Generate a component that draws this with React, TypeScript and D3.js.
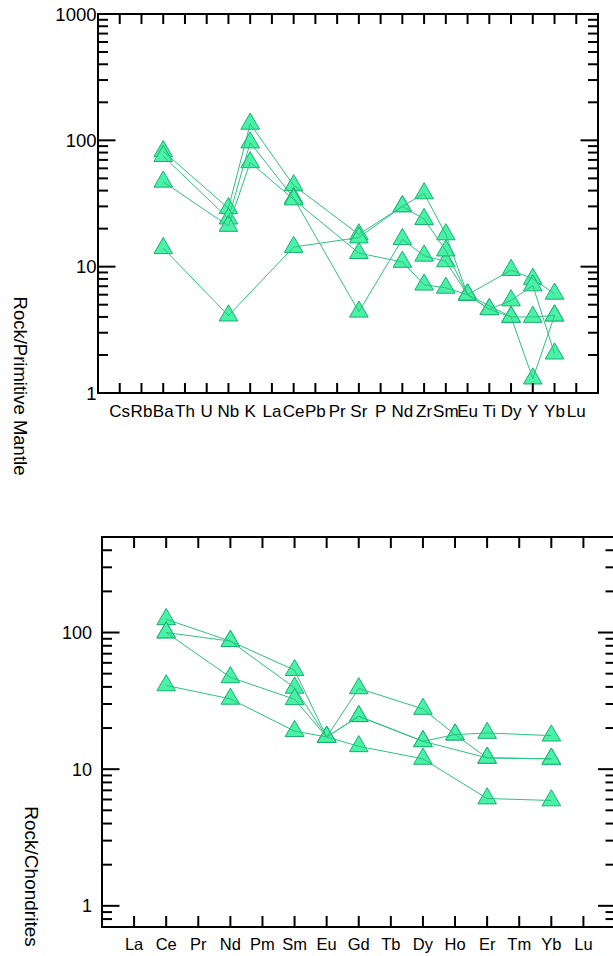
import React from "react";
import * as d3 from "d3";

// ---------- Data: top chart (primitive-mantle normalised spider diagram) ----------
const spiderElements = ["Cs", "Rb", "Ba", "Th", "U", "Nb", "K", "La", "Ce", "Pb", "Pr", "Sr", "P", "Nd", "Zr", "Sm", "Eu", "Ti", "Dy", "Y", "Yb", "Lu"];
//                 Cs    Rb    Ba    Th    U     Nb    K     La    Ce    Pb    Pr    Sr    P     Nd    Zr    Sm    Eu    Ti    Dy    Y     Yb    Lu
const spiderA = [null, null, 82, null, null, 29, 135, null, 44, null, null, 18, null, 30, 38, 18, 6.0, null, 9.4, 8.0, 6.1, null];
const spiderB = [null, null, 75, null, null, 24, 96, null, 35, null, null, 4.4, null, 16.5, 12.2, 11.0, 6.0, 4.6, 5.4, 7.1, 2.05, null];
const spiderC = [null, null, 47, null, null, 21, 67, null, 34, null, null, 12.8, null, 10.9, 7.2, 6.8, 6.0, 4.6, 4.0, 4.0, 4.1, null];
const spiderD = [null, null, 14, null, null, 4.1, null, null, 14.3, null, null, 17, null, 30, 23.8, 13.4, 6.0, null, 4.0, 1.3, 4.1, null];
const spiderSeries = [spiderA, spiderB, spiderC, spiderD];
const spiderDomain = [1, 1000];
const spiderYLabels = [1, 10, 100, 1000];

// ---------- Data: bottom chart (chondrite normalised REE) ----------
const reeElements = ["La", "Ce", "Pr", "Nd", "Pm", "Sm", "Eu", "Gd", "Tb", "Dy", "Ho", "Er", "Tm", "Yb", "Lu"];
//              La    Ce   Pr    Nd    Pm    Sm    Eu    Gd    Tb    Dy    Ho    Er    Tm    Yb    Lu
const reeS1 = [null, 125, null, 86.5, null, 53, 17.2, 39, null, 27.6, 17.9, 12.1, null, 11.9, null];
const reeS2 = [null, 100, null, 86.5, null, 39.4, 17.2, 24.4, null, 16.0, 17.9, 18.4, null, 17.6, null];
const reeS3 = [null, 100, null, 47, null, 32.5, 17.2, 24.4, null, 16.0, null, 12.1, null, 11.9, null];
const reeS4 = [null, 41, null, 32.7, null, 19.0, 17.2, 14.7, null, 11.9, null, 6.1, null, 5.9, null];
const reeSeries = [reeS1, reeS2, reeS3, reeS4];
const reeDomain = [0.7, 500];
const reeYLabels = [1, 10, 100];

const FILL = "#4af2a8";
const EDGE = "#16b06d";
const LINE = "#2cc283";
const FONT = "'Liberation Sans', Arial, Helvetica, sans-serif";

type PanelProps = {
  elements: string[];
  series: (number | null)[][];
  domain: number[];
  yLabels: number[];
  box: { left: number; right: number; top: number; bottom: number };
  title: string;
  titleX: number;
  titleY: number;
  titleFont: number;
  labelRight: number;
  labelFont: number;
  xLabelY: number;
  xFont: number;
  xTickLen: number;
};

function Panel(p: PanelProps) {
  const { box } = p;
  const n = p.elements.length;
  const x = d3.scaleLinear().domain([-1, n]).range([box.left, box.right]);
  const y = d3.scaleLog().domain(p.domain).range([box.bottom, box.top]);
  const yTicks = y.ticks();
  const isMajor = (v: number) => Math.abs(Math.log10(v) - Math.round(Math.log10(v))) < 1e-9;
  const tri = d3.symbol().type(d3.symbolTriangle).size(150);
  const line = d3
    .line<{ i: number; v: number }>()
    .x((d) => x(d.i))
    .y((d) => y(d.v));
  const pts = p.series.map((s) =>
    s.map((v, i) => ({ i, v: v as number })).filter((d) => d.v != null)
  );

  return (
    <g>
      {/* markers */}
      {pts.map((s, si) =>
        s.map((d, k) => (
          <path
            key={`m${si}-${k}`}
            d={tri() as string}
            transform={`translate(${x(d.i)},${y(d.v)})`}
            fill={FILL}
            stroke={EDGE}
            strokeWidth={1}
          />
        ))
      )}
      {/* lines */}
      {pts.map((s, si) => (
        <path key={`l${si}`} d={line(s) as string} fill="none" stroke={LINE} strokeWidth={1} />
      ))}
      {/* frame */}
      <rect
        x={box.left}
        y={box.top}
        width={box.right - box.left}
        height={box.bottom - box.top}
        fill="none"
        stroke="#000"
        strokeWidth={2}
      />
      {/* x ticks */}
      {p.elements.map((e, i) => (
        <g key={`xt${i}`}>
          <line x1={x(i)} x2={x(i)} y1={box.top} y2={box.top + p.xTickLen} stroke="#000" strokeWidth={2} />
          <line x1={x(i)} x2={x(i)} y1={box.bottom} y2={box.bottom - p.xTickLen} stroke="#000" strokeWidth={2} />
          <text x={x(i)} y={p.xLabelY} textAnchor="middle" fontSize={p.xFont} fontFamily={FONT} fill="#000">
            {e}
          </text>
        </g>
      ))}
      {/* y ticks */}
      {yTicks.map((v, k) => {
        const len = isMajor(v) ? 17.5 : 10;
        return (
          <g key={`yt${k}`}>
            <line x1={box.left} x2={box.left + len} y1={y(v)} y2={y(v)} stroke="#000" strokeWidth={2} />
            <line x1={box.right} x2={box.right - len} y1={y(v)} y2={y(v)} stroke="#000" strokeWidth={2} />
          </g>
        );
      })}
      {p.yLabels.map((v) => (
        <text
          key={`yl${v}`}
          x={p.labelRight}
          y={y(v) + p.labelFont * 0.36}
          textAnchor="end"
          fontSize={p.labelFont}
          fontFamily={FONT}
          fill="#000"
        >
          {String(v)}
        </text>
      ))}
      <text
        transform={`translate(${p.titleX},${p.titleY}) rotate(90)`}
        textAnchor="middle"
        fontSize={p.titleFont}
        fontFamily={FONT}
        fill="#000"
      >
        {p.title}
      </text>
    </g>
  );
}

export default function App() {
  return (
    <svg
      width={613}
      height={956}
      viewBox="0 0 613 956"
      style={{ position: "absolute", left: 0, top: 0, background: "#fff" }}
    >
      <rect x={0} y={0} width={613} height={956} fill="#fff" />
      <Panel
        elements={spiderElements}
        series={spiderSeries}
        domain={spiderDomain}
        yLabels={spiderYLabels}
        box={{ left: 98, right: 598, top: 14, bottom: 393 }}
        title="Rock/Primitive Mantle"
        titleX={13.5}
        titleY={386}
        titleFont={18.5}
        labelRight={96.5}
        labelFont={18.5}
        xLabelY={417}
        xFont={17}
        xTickLen={10}
      />
      <Panel
        elements={reeElements}
        series={reeSeries}
        domain={reeDomain}
        yLabels={reeYLabels}
        box={{ left: 102, right: 615.5, top: 537, bottom: 927 }}
        title="Rock/Chondrites"
        titleX={25}
        titleY={876.5}
        titleFont={19}
        labelRight={92}
        labelFont={18}
        xLabelY={950}
        xFont={16.5}
        xTickLen={11}
      />
    </svg>
  );
}
